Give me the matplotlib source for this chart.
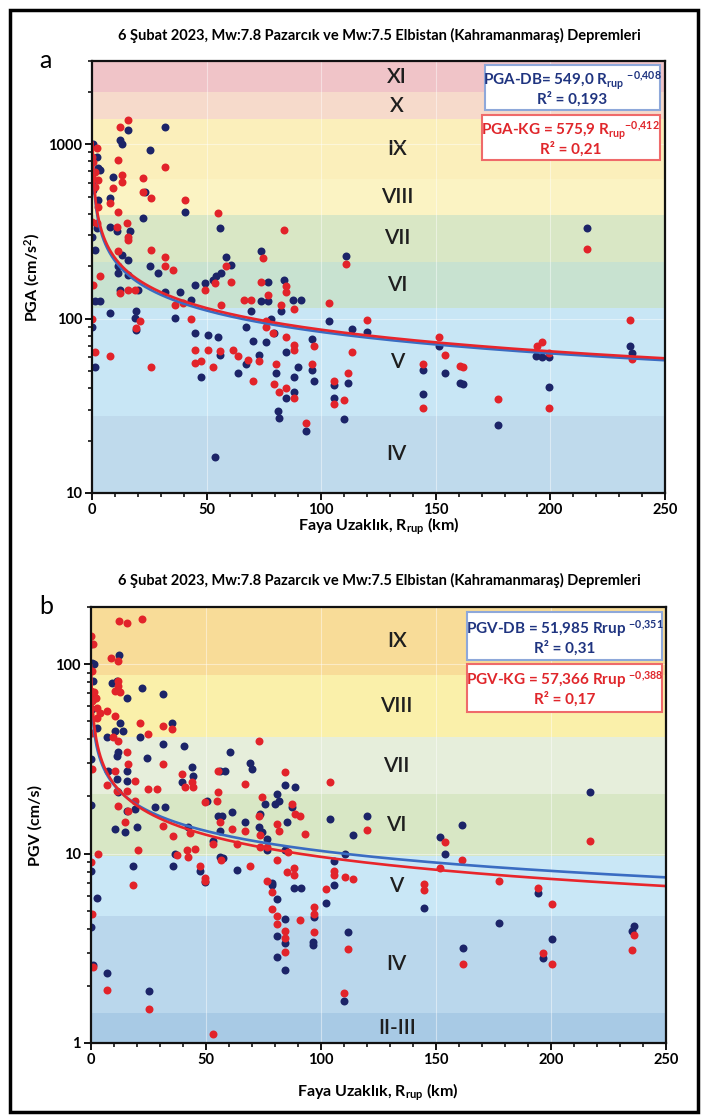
import numpy as np
import matplotlib
matplotlib.use('Agg')
import matplotlib.pyplot as plt
from matplotlib.patches import Rectangle
from matplotlib.ticker import MultipleLocator, LogLocator, NullFormatter

plt.rcParams['font.family'] = ['Lato', 'DejaVu Sans']
plt.rcParams['mathtext.fontset'] = 'custom'
plt.rcParams['mathtext.rm'] = 'Lato:bold'
plt.rcParams['mathtext.it'] = 'Lato:bold'
plt.rcParams['mathtext.bf'] = 'Lato:bold'

title = "6 Şubat 2023, Mw:7.8 Pazarcık ve Mw:7.5 Elbistan (Kahramanmaraş) Depremleri"

# --- PGA (cm/s2) vs Rrup (km), DB = dark blue, KG = red ---
pga_db = [(0.3, 1009), (2.0, 847), (2.8, 726), (3.5, 710), (0.2, 609), (0.6, 546), (2.8, 479), (0.2, 295),
          (1.3, 248), (2.0, 330), (1.3, 126), (3.5, 126), (0.2, 90), (1.3, 53),
          (7.8, 108), (7.8, 337), (7.8, 489), (9.3, 650), (10.7, 316), (11.5, 182), (11.5, 199), (12.2, 146),
          (12.9, 232), (12.2, 1054), (12.9, 1009),
          (15.8, 1202), (15.8, 217), (15.8, 178), (16.5, 316), (19.4, 110), (18.7, 101), (19.4, 86), (20.1, 146),
          (22.3, 376), (23.0, 534),
          (25.2, 925), (25.2, 199), (28.8, 182), (31.7, 1256), (31.7, 143), (36.1, 101), (38.3, 143), (43.3, 128),
          (40.4, 410), (44.8, 156), (44.8, 83), (47.7, 46), (50.6, 81), (49.1, 160), (52.8, 167), (53.5, 16),
          (54.2, 175), (54.9, 78), (55.7, 330), (55.7, 62), (56.4, 182), (58.6, 227), (60.7, 204),
          (63.6, 49), (67.3, 90), (67.3, 55), (69.4, 110), (70.1, 74), (73.0, 62), (73.8, 243), (73.8, 126),
          (75.9, 73), (76.7, 163), (76.7, 126), (78.1, 99),
          (79.6, 83), (80.3, 49), (81.0, 29.5), (81.7, 27), (82.5, 110), (83.9, 167), (84.6, 64), (84.6, 35),
          (87.5, 128), (88.3, 38), (88.3, 46), (89.7, 53), (91.2, 128), (93.3, 22.7), (96.2, 76), (96.2, 51),
          (97.0, 44),
          (103.5, 97), (105.7, 41.6), (105.7, 34.9), (110.0, 26.5), (110.7, 229), (111.8, 42.5), (113.6, 87),
          (119.9, 83.5), (144.4, 51), (144.4, 37), (151.6, 69.5), (153.8, 49), (160.7, 42.9), (161.8, 42),
          (177.0, 24.5), (193.6, 61), (196.3, 60.4), (199.4, 60.4), (199.6, 40.7), (216.1, 330), (234.7, 69.5),
          (235.4, 63.7)]

pga_kg = [(2.0, 945), (0.2, 847), (0.6, 793), (1.3, 695), (0.2, 650), (2.8, 623), (1.3, 571), (2.8, 439),
          (0.2, 360), (2.0, 352), (0.6, 156), (3.5, 175), (0.2, 99), (1.3, 64),
          (7.8, 61), (7.8, 458), (9.3, 558), (11.5, 811), (11.5, 410), (10.7, 337), (11.5, 243), (12.2, 140),
          (12.9, 665), (12.9, 609), (12.2, 1256),
          (15.8, 1371), (15.1, 352), (15.8, 295), (15.8, 283), (18.7, 146), (19.4, 88), (20.9, 97), (22.3, 637),
          (22.3, 534), (15.8, 146),
          (25.9, 248), (25.9, 53), (25.9, 489), (31.7, 743), (31.7, 227), (31.7, 199), (35.4, 191), (36.1, 120),
          (39.7, 123),
          (40.4, 479), (43.3, 99), (44.8, 66.5), (44.8, 56), (47.7, 57), (49.1, 146), (50.6, 66.5), (52.8, 53),
          (53.5, 160), (54.9, 401), (55.7, 65), (56.4, 120), (58.6, 199), (60.7, 163),
          (61.5, 66.5), (63.6, 61), (66.5, 128), (69.4, 128), (68.0, 58), (70.1, 44), (73.0, 57), (73.8, 163),
          (74.5, 222), (75.9, 90), (75.9, 97), (76.7, 137),
          (78.8, 83), (80.3, 55), (79.6, 42), (81.7, 38), (82.5, 120), (83.9, 323), (84.6, 153), (84.6, 143),
          (84.6, 78), (84.6, 40), (88.3, 35), (88.3, 71), (88.3, 66.5), (88.3, 113), (93.3, 25.3), (96.2, 55),
          (97.0, 69.5),
          (103.5, 123), (105.7, 43.9), (105.7, 32.3), (110.0, 34), (110.7, 206), (111.8, 48.5), (113.6, 64),
          (119.9, 98), (144.4, 54.6), (144.4, 30.9), (151.6, 78), (153.8, 61.5), (160.7, 53.5), (161.8, 53),
          (177.0, 34.4), (194.0, 69.5), (196.3, 73), (199.4, 63.7), (199.6, 30.9), (216.1, 251), (234.7, 97.7),
          (235.4, 59)]

# --- PGV (cm/s) vs Rrup (km) ---
pgv_db = [(0.2, 127), (0.5, 101), (1.7, 99.6), (1.2, 81.4), (2.0, 66.5), (0.5, 57.7), (2.7, 46.2), (0.2, 31.5),
          (0.2, 18.0), (0.2, 8.1), (2.8, 5.8), (0.2, 4.1), (1.3, 2.57),
          (7.0, 41), (9.2, 79.7), (11.4, 81.4), (12.5, 112), (15.7, 66.5), (10.7, 44.4), (14.3, 44.4),
          (12.1, 34.2), (11.4, 32.8), (11.4, 24.7), (12.1, 21), (10.7, 13.5), (15.0, 13), (15.7, 27.3),
          (15.7, 24.2), (7.0, 2.33), (12.8, 49), (7.7, 27.3), (15.7, 16.8),
          (20.1, 13.8), (21.5, 41), (24.4, 32.1), (22.2, 75), (18.6, 8.6), (19.3, 17.2), (25.6, 1.88), (28.1, 17.5),
          (31.7, 69.2), (31.7, 37.8), (35.3, 49), (32.4, 17.5), (36.7, 9.96), (40.4, 37), (39.6, 23.8), (36.0, 8.6),
          (44.0, 28.5), (44.7, 25.7), (42.5, 13.8),
          (47.6, 8.1), (49.7, 7.1), (50.5, 19), (53.4, 11.7), (56.3, 27.3), (58.5, 27.3), (57.0, 15.8), (55.6, 15.8),
          (56.3, 13.2), (57.6, 9.5), (61.4, 16.5), (60.6, 34.2), (56.3, 9.57),
          (63.8, 8.2), (69.3, 30.2), (70.1, 28), (73.7, 16.2), (67.2, 14.6), (73.0, 13.8), (74.4, 13), (76.6, 12),
          (75.9, 18.3), (76.6, 10.4), (79.0, 7.0), (79.0, 6.8),
          (80.2, 18.3), (80.9, 20.6), (81.7, 19), (84.6, 22.9), (85.3, 14.6), (84.6, 10.4), (88.9, 22.4),
          (87.5, 17.5), (81.2, 5.73), (81.0, 3.66), (81.0, 2.83), (84.6, 4.5), (84.6, 3.37), (84.6, 2.44),
          (88.4, 6.57), (91.3, 6.57),
          (96.9, 4.6), (96.6, 3.41), (96.6, 3.31),
          (103.9, 15.2), (105.9, 9.1), (105.9, 6.8), (102.4, 5.5), (110.4, 9.96), (114.0, 12.5), (120.1, 15.7),
          (111.7, 3.86), (110.0, 1.67),
          (151.7, 12.2), (154.1, 9.96), (161.4, 14.2), (144.7, 5.15), (177.6, 4.3), (194.4, 6.2), (200.5, 3.56),
          (196.6, 2.82), (161.8, 3.18), (216.8, 21), (236.0, 4.13), (235.3, 3.9)]

pgv_kg = [(0.2, 140), (1.2, 127), (0.5, 91.9), (0.2, 72), (1.7, 71), (0.5, 63.8), (2.7, 58.9), (2.7, 52.2),
          (0.5, 43.5), (0.5, 27.9), (3.4, 10), (0.2, 9.0), (0.6, 4.8), (1.3, 2.52), (4.1, 55.4), (2.4, 66),
          (7.0, 56.6), (7.0, 22.9), (8.9, 108), (12.1, 104), (10.7, 72), (12.1, 76.5), (12.8, 71), (12.1, 81.4),
          (10.7, 53.2), (9.9, 41), (12.1, 39.3), (10.7, 27.3), (12.1, 17.9), (15.0, 14.6), (16.4, 29.6),
          (15.7, 34.2), (16.4, 16.8), (12.3, 168), (15.7, 165), (7.0, 1.9), (18.6, 6.8), (11.4, 21.3), (15.7, 21.3),
          (22.2, 172), (19.3, 24.2), (19.3, 19), (20.8, 10.4), (21.5, 49), (25.1, 22), (25.1, 42.6), (28.8, 22),
          (25.6, 1.52),
          (31.7, 47), (31.7, 29.6), (35.3, 45.3), (31.7, 14), (36.0, 12.4), (37.5, 9.8), (39.6, 26.3), (41.1, 22.4),
          (44.0, 23.8), (44.7, 22.4), (41.8, 10.4), (45.4, 10.6), (42.5, 9.6), (43.2, 12.9),
          (49.8, 7.2), (47.6, 8.6), (49.7, 7.4), (49.8, 18.6), (53.4, 11.2), (55.6, 27.3), (55.6, 21), (54.9, 19),
          (56.3, 14.6), (56.5, 9.2), (61.4, 13.5), (53.0, 1.12),
          (63.6, 11.2), (67.2, 23.3), (73.0, 39.3), (73.0, 15.8), (67.2, 13.2), (73.7, 10.8), (76.6, 10.8),
          (74.4, 19.8), (69.4, 8.6), (76.8, 7.15), (79.0, 6.26), (79.0, 5.1), (73.7, 12.5),
          (80.9, 14.3), (81.7, 13.2), (84.3, 26.8), (86.0, 10.2), (87.5, 18.3), (88.9, 16.2), (93.3, 12.7),
          (81.0, 9.2), (81.0, 4.7), (81.0, 4.27), (84.6, 3.88), (84.6, 3.6), (84.6, 3.03), (85.5, 8.0),
          (88.4, 7.66), (88.4, 8.4), (91.0, 4.47),
          (96.9, 5.2), (96.9, 4.8), (96.9, 3.86), (91.1, 15.8),
          (103.9, 23.9), (105.9, 8.1), (105.9, 7.66), (110.4, 7.55), (114.0, 7.3), (102.4, 6.46), (120.1, 13.3),
          (111.7, 3.13), (110.0, 1.84),
          (154.1, 11.5), (161.4, 9.25), (151.7, 8.4), (144.7, 6.9), (144.7, 6.4), (177.6, 7.2), (194.4, 6.6),
          (200.5, 5.43), (196.6, 2.97), (200.5, 2.6), (161.8, 2.6), (216.8, 11.6), (236.0, 3.7), (235.3, 3.11)]

# power-law fits  y = a * R^b
pga_fit_db = (549.0, -0.408)
pga_fit_kg = (575.9, -0.412)
pgv_fit_db = (51.985, -0.351)
pgv_fit_kg = (57.366, -0.388)

# intensity bands (lower, upper, label)
pga_bands = [(10, 27.7, 'IV'), (27.7, 115, 'V'), (115, 211, 'VI'), (211, 393, 'VII'),
             (393, 630, 'VIII'), (630, 1390, 'IX'), (1390, 1985, 'X'), (1985, 3000, 'XI')]
pga_band_colors = ['#bfdaec', '#c8e6f5', '#c8e2d0', '#d9e7c5', '#fbf3c3', '#fbefbb', '#f6dacb', '#f0c4c8']

pgv_bands = [(1, 1.44, 'II-III'), (1.44, 4.7, 'IV'), (4.7, 9.7, 'V'), (9.7, 20.7, 'VI'),
             (20.7, 41, 'VII'), (41, 87.5, 'VIII'), (87.5, 200, 'IX')]
pgv_band_colors = ['#a8cae5', '#bad7ec', '#c9e7f6', '#d8e7c5', '#e6eedb', '#faf0aa', '#f8dc98']

NAVY = '#1c2468'
RED = '#e2232a'

fig = plt.figure(figsize=(7.03, 11.17), dpi=100)
fig.add_artist(Rectangle((10 / 703, 1 - 1112 / 1117), 688 / 703, 1102 / 1117, transform=fig.transFigure,
                         fill=False, edgecolor='black', lw=2.5))

ax_a = fig.add_axes([92 / 703, 1 - 493 / 1117, 573 / 703, 432 / 1117])
ax_b = fig.add_axes([90.5 / 703, 1 - 1043 / 1117, 575.5 / 703, 436 / 1117])


def draw_panel(ax, bands, colors, db, kg, fit_db, fit_kg, ylim, yticks):
    for (lo, hi, name), c in zip(bands, colors):
        ax.axhspan(lo, hi, color=c, lw=0, zorder=0)
        ax.text(133, np.sqrt(lo * hi), name, ha='center', va='center', fontsize=15,
                fontweight='semibold', color='#1e1e1e', zorder=1)
    ax.grid(True, which='major', color='white', lw=0.8, alpha=0.45, zorder=0.5)
    db = np.array(db)
    kg = np.array(kg)
    ax.scatter(db[:, 0], db[:, 1], s=33, color=NAVY, lw=0, zorder=3)
    ax.scatter(kg[:, 0], kg[:, 1], s=33, color=RED, lw=0, zorder=3)
    r = np.geomspace(0.25, 250, 400)
    ax.plot(r, fit_db[0] * r ** fit_db[1], color='#3a6cc2', lw=1.9, zorder=4)
    ax.plot(r, fit_kg[0] * r ** fit_kg[1], color='#e8252b', lw=1.9, zorder=5)

    ax.set_yscale('log')
    ax.set_xlim(0, 250)
    ax.set_ylim(*ylim)
    ax.set_xticks([0, 50, 100, 150, 200, 250])
    ax.xaxis.set_minor_locator(MultipleLocator(10))
    ax.set_yticks(yticks)
    ax.set_yticklabels([f'{v:g}' for v in yticks])
    ax.yaxis.set_minor_locator(LogLocator(base=10, subs=np.arange(2, 10)))
    ax.yaxis.set_minor_formatter(NullFormatter())
    ax.tick_params(which='major', direction='out', length=5, width=1.3, labelsize=10.5, pad=2)
    ax.tick_params(which='minor', direction='out', length=3, width=1.1)
    for lab in ax.get_xticklabels() + ax.get_yticklabels():
        lab.set_fontweight('bold')
    for sp in ax.spines.values():
        sp.set_linewidth(1.6)
        sp.set_color('#111111')
        sp.set_zorder(6)


def add_box(ax, x0, x1, y0, y1, lines, ys, edge, textcolor):
    ax.add_patch(Rectangle((x0, y0), x1 - x0, y1 - y0, transform=ax.transAxes, facecolor='white',
                           edgecolor=edge, lw=1.5, zorder=7))
    xc = (x0 + x1) / 2
    for txt, y in zip(lines, ys):
        ax.text(xc, y, txt, transform=ax.transAxes, ha='center', va='center', fontsize=11,
                fontweight='bold', color=textcolor, zorder=8)


draw_panel(ax_a, pga_bands, pga_band_colors, pga_db, pga_kg, pga_fit_db, pga_fit_kg, (10, 3000), [10, 100, 1000])
draw_panel(ax_b, pgv_bands, pgv_band_colors, pgv_db, pgv_kg, pgv_fit_db, pgv_fit_kg, (1, 200), [1, 10, 100])

add_box(ax_a, 0.686, 0.991, 0.887, 0.990,
        [r'PGA-DB= 549,0 R$_{\mathrm{rup}}$ $^{-0{,}408}$', 'R² = 0,193'], [0.955, 0.912], '#8ea8da', '#1f3480')
add_box(ax_a, 0.680, 0.991, 0.771, 0.875,
        [r'PGA-KG = 575,9 R$_{\mathrm{rup}}$$^{-0{,}412}$', 'R² = 0,21'], [0.838, 0.795], '#ef6a6a', '#e0262b')
add_box(ax_b, 0.655, 0.993, 0.878, 0.989,
        [r'PGV-DB = 51,985 Rrup $^{-0{,}351}$', 'R² = 0,31'], [0.951, 0.906], '#8ea8da', '#1f3480')
add_box(ax_b, 0.655, 0.993, 0.759, 0.869,
        [r'PGV-KG = 57,366 Rrup $^{-0{,}388}$', 'R² = 0,17'], [0.833, 0.789], '#ef6a6a', '#e0262b')

ax_a.set_ylabel('PGA (cm/s$^{2}$)', fontsize=11.5, fontweight='bold')
ax_a.yaxis.set_label_coords(-0.087, 0.5)
ax_a.set_xlabel(r'Faya Uzaklık, R$_{\mathrm{rup}}$ (km)', fontsize=11.5, fontweight='bold')
ax_a.xaxis.set_label_coords(0.5, -0.052)

ax_b.set_ylabel('PGV (cm/s)', fontsize=11.5, fontweight='bold')
ax_b.yaxis.set_label_coords(-0.084, 0.5)
ax_b.set_xlabel(r'Faya Uzaklık, R$_{\mathrm{rup}}$ (km)', fontsize=11.5, fontweight='bold')
ax_b.xaxis.set_label_coords(0.5, -0.088)

fig.text(379 / 703, 1 - 35 / 1117, title, ha='center', va='center', fontsize=10.5, fontweight='bold')
fig.text(379 / 703, 1 - 580 / 1117, title, ha='center', va='center', fontsize=10.5, fontweight='bold')
fig.text(45 / 703, 1 - 61 / 1117, 'a', ha='center', va='center', fontsize=18)
fig.text(46 / 703, 1 - 606 / 1117, 'b', ha='center', va='center', fontsize=18)

fig.savefig('out.png', dpi=100, facecolor='white')
